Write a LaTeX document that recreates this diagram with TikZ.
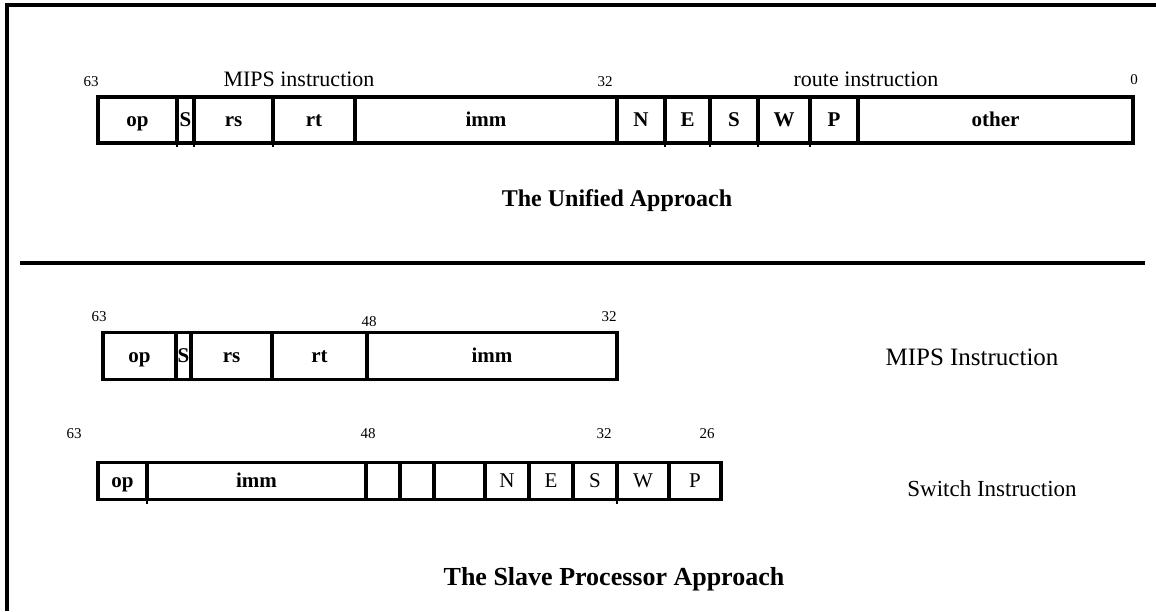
\documentclass[tikz,border=0pt]{standalone}
\usepackage{fontspec}
\setmainfont{Liberation Serif}
\begin{document}
\begin{tikzpicture}[x=1pt,y=-1pt,
  frame/.style={line width=3.2pt},
  cell/.style={draw,line width=3.2pt,inner sep=0pt,outer sep=0pt,anchor=center,text height=15pt,text depth=3pt},
  bnum/.style={font=\fontsize{15}{17}\selectfont,inner sep=0pt},
  fldname/.style={font=\fontsize{22}{26}\selectfont,inner sep=0pt},
  lblb/.style={font=\fontsize{21}{24}\selectfont\bfseries},
  lblr/.style={font=\fontsize{21}{24}\selectfont},
  heading/.style={font=\fontsize{24}{28}\selectfont\bfseries,inner sep=0pt},
  tick/.style={line width=2.4pt}]
\useasboundingbox (0,0) rectangle (1156,611);
\newcommand{\fcell}[7]{\node[cell,#6,minimum width={(#3-#2)*1pt},minimum height={#5*1pt}] (#1) at ({(#2+#3)/2},#4) {#7};}
% frame
\coordinate (fbl) at (7,611);
\coordinate (ftl) at (7,5);
\coordinate (ftr) at (1156,5);
\draw[frame] (fbl) -- (ftl) -- (ftr);
\coordinate (sepl) at (20,263);
\coordinate (sepr) at (1145,263);
\draw[frame] (sepl) -- (sepr);

% ---- The Unified Approach ----
\node[bnum] (u63) at (91,82) {63};
\node[fldname] (umips) at (299,79) {MIPS instruction};
\node[bnum] (u32) at (605,82) {32};
\node[fldname] (uroute) at (866,79) {route instruction};
\node[bnum] (u0) at (1134,80) {0};
\fcell{uop}{98}{177}{120}{46}{lblb}{op}
\fcell{us}{177}{194}{120}{46}{lblb}{S}
\fcell{urs}{194}{273}{120}{46}{lblb}{rs}
\fcell{urt}{273}{355}{120}{46}{lblb}{rt}
\fcell{uimm}{355}{617}{120}{46}{lblb}{imm}
\fcell{un}{617}{665}{120}{46}{lblb}{N}
\fcell{ue}{665}{710}{120}{46}{lblb}{E}
\fcell{us2}{710}{758}{120}{46}{lblb}{S}
\fcell{uw}{758}{810}{120}{46}{lblb}{W}
\fcell{up}{810}{858}{120}{46}{lblb}{P}
\fcell{uother}{858}{1133}{120}{46}{lblb}{other}
\foreach \n in {us,urt,ue,us2,uw,up}{\draw[tick] (\n.south west) -- ++(0,4);}
\draw[tick] (us.south east) -- ++(0,4);
\node[heading] (uhead) at (617,201) {The Unified Approach};

% ---- The Slave Processor Approach ----
\node[bnum] (m63) at (99,317) {63};
\node[bnum] (m48) at (369,322) {48};
\node[bnum] (m32) at (609,317) {32};
\fcell{mop}{103}{176}{356}{47}{lblb}{op}
\fcell{ms}{176}{191}{356}{47}{lblb}{S}
\fcell{mrs}{191}{272}{356}{47}{lblb}{rs}
\fcell{mrt}{272}{367}{356}{47}{lblb}{rt}
\fcell{mimm}{367}{617}{356}{47}{lblb}{imm}
\node[fldname,font=\fontsize{25}{28}\selectfont] (mlabel) at (972,357) {MIPS Instruction};

\node[bnum] (s63) at (74,434) {63};
\node[bnum] (s48) at (368,434) {48};
\node[bnum] (s32) at (604,434) {32};
\node[bnum] (s26) at (707,434) {26};
\fcell{sop}{98}{147}{481}{37}{lblb}{op}
\fcell{simm}{147}{366}{481}{37}{lblb}{imm}
\fcell{se1}{366}{400}{481}{37}{}{}
\fcell{se2}{400}{434}{481}{37}{}{}
\fcell{se3}{434}{485}{481}{37}{}{}
\fcell{sn}{485}{529}{481}{37}{lblr}{N}
\fcell{se}{529}{573}{481}{37}{lblr}{E}
\fcell{ss}{573}{617}{481}{37}{lblr}{S}
\fcell{sw}{617}{669}{481}{37}{lblr}{W}
\fcell{sp}{669}{721}{481}{37}{lblr}{P}
\draw[tick] (simm.south west) -- ++(0,4);
\draw[tick] (sw.south west) -- ++(0,4);
\node[fldname,font=\fontsize{23}{26}\selectfont] (slabel) at (992,489) {Switch Instruction};
\node[heading,font=\fontsize{26}{30}\selectfont\bfseries] (shead) at (614,579) {The Slave Processor Approach};
\end{tikzpicture}
\end{document}
